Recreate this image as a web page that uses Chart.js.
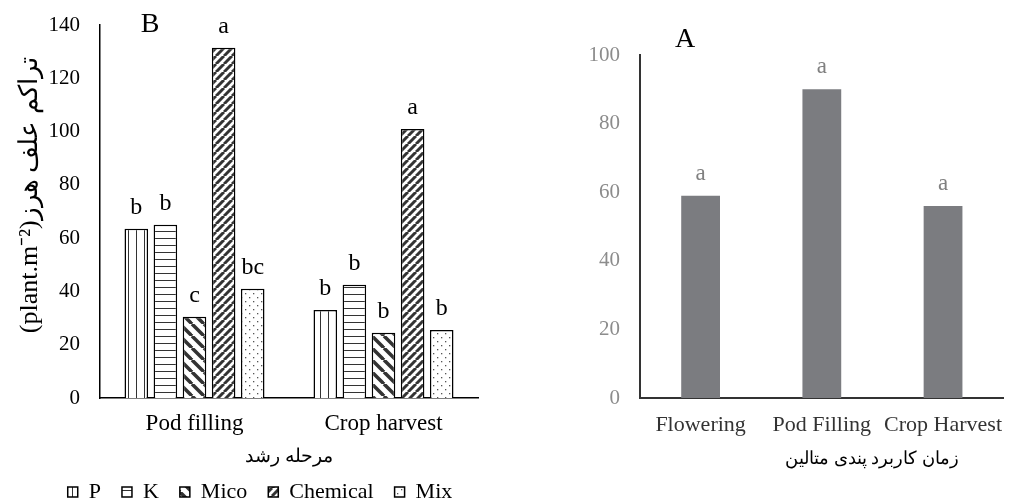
<!DOCTYPE html>
<html>
<head>
<meta charset="utf-8">
<script src="https://cdn.jsdelivr.net/npm/chart.js@4.4.0/dist/chart.umd.min.js"></script>
<style>
  html, body { margin: 0; padding: 0; background: #fff; }
  #wrapB { position: absolute; left: 0; top: 0; width: 545px; height: 500px; }
  #wrapA { position: absolute; left: 545px; top: 0; width: 471px; height: 500px; }
</style>
</head>
<body>
<div id="wrapB"><canvas id="chartB" width="545" height="500"></canvas></div>
<div id="wrapA"><canvas id="chartA" width="471" height="500"></canvas></div>
<script>
// panel B: weed density by growth stage and treatment
var stages = ['Pod filling', 'Crop harvest'];
var treatments = ['P', 'K', 'Mico', 'Chemical', 'Mix'];
var pValues = [63.5, 33];
var kValues = [65, 42.5];
var micoValues = [30.5, 24.5];
var chemicalValues = [131.5, 101];
var mixValues = [41, 25.5];
var pLetters = ['b', 'b'];
var kLetters = ['b', 'b'];
var micoLetters = ['c', 'b'];
var chemicalLetters = ['a', 'a'];
var mixLetters = ['bc', 'b'];
var yTicksB = { min: 0, max: 140, step: 20 };

// panel A: pendimethalin application time
var timings = ['Flowering', 'Pod Filling', 'Crop Harvest'];
var timingValues = [59, 90, 56];
var timingLetters = ['a', 'a', 'a'];
var yTicksA = { min: 0, max: 100, step: 20 };

var serif = 'Liberation Serif';

function makePattern(size, draw) {
    var c = document.createElement('canvas');
    c.width = size; c.height = size;
    var g = c.getContext('2d');
    g.fillStyle = '#fff';
    g.fillRect(0, 0, size, size);
    draw(g, size);
    return g.createPattern(c, 'repeat');
}

var vertLines = makePattern(8, function (g, s) {
    g.fillStyle = '#333';
    g.fillRect(0, 0, 1, s);
});
var horizLines = makePattern(7, function (g, s) {
    g.fillStyle = '#333';
    g.fillRect(0, 0, s, 1);
});
var backDiag = makePattern(12, function (g, s) {
    g.strokeStyle = '#333';
    g.lineWidth = 3.5;
    for (var k = -1; k <= 1; k++) {
        g.beginPath();
        g.moveTo(k * s, 0);
        g.lineTo(k * s + s, s);
        g.stroke();
    }
});
var fwdDiag = makePattern(8, function (g, s) {
    g.strokeStyle = '#333';
    g.lineWidth = 3;
    for (var k = -1; k <= 1; k++) {
        g.beginPath();
        g.moveTo(k * s, s);
        g.lineTo(k * s + s, 0);
        g.stroke();
    }
});
var dots = makePattern(8, function (g, s) {
    g.fillStyle = '#555';
    g.fillRect(1, 1, 1.3, 1.3);
    g.fillRect(5, 5, 1.3, 1.3);
});

function barSet(label, values, letters, fill) {
    return {
        label: label,
        data: values,
        letters: letters,
        backgroundColor: fill,
        borderColor: '#000',
        borderWidth: 1.5,
        categoryPercentage: 0.77,
        barPercentage: 0.81
    };
}

// writes the significance letters above each bar
var letterPlugin = {
    id: 'letters',
    afterDatasetsDraw: function (chart, args, opts) {
        var ctx = chart.ctx;
        ctx.save();
        ctx.font = opts.size + 'px "' + serif + '"';
        ctx.fillStyle = opts.color;
        ctx.textAlign = 'center';
        ctx.textBaseline = 'alphabetic';
        chart.data.datasets.forEach(function (ds, i) {
            chart.getDatasetMeta(i).data.forEach(function (bar, j) {
                ctx.fillText(ds.letters[j], bar.x, bar.y - opts.gap);
            });
        });
        ctx.restore();
    }
};

// panel letters and extra captions
var captionPlugin = {
    id: 'captions',
    afterDraw: function (chart, args, opts) {
        var ctx = chart.ctx;
        ctx.save();
        opts.items.forEach(function (t) {
            ctx.font = t.size + 'px "' + serif + '"';
            ctx.fillStyle = t.color;
            ctx.textAlign = 'center';
            ctx.textBaseline = 'middle';
            ctx.fillText(t.text, t.x, t.y);
        });
        ctx.restore();
    }
};

new Chart(document.getElementById('chartB'), {
    type: 'bar',
    data: {
        labels: stages,
        datasets: [
            barSet(treatments[0], pValues, pLetters, vertLines),
            barSet(treatments[1], kValues, kLetters, horizLines),
            barSet(treatments[2], micoValues, micoLetters, backDiag),
            barSet(treatments[3], chemicalValues, chemicalLetters, fwdDiag),
            barSet(treatments[4], mixValues, mixLetters, dots)
        ]
    },
    options: {
        responsive: false,
        animation: false,
        layout: { padding: { left: 42, right: 67, top: 25, bottom: 0 } },
        scales: {
            x: {
                grid: { display: false, drawTicks: false },
                border: { display: true, color: '#000', width: 1.5 },
                ticks: { color: '#000', padding: 12, font: { family: serif, size: 23 } },
                title: {
                    display: true, text: 'مرحله رشد', color: '#000',
                    font: { family: serif, size: 19 }, padding: { top: 0, bottom: -8 }
                },
                afterFit: function (s) { s.height = 62; }
            },
            y: {
                min: yTicksB.min, max: yTicksB.max,
                grid: { display: false, drawTicks: true, tickLength: 16 },
                border: { display: true, color: '#000', width: 1.5 },
                ticks: { stepSize: yTicksB.step, color: '#000', padding: 4, font: { family: serif, size: 21 } },
                title: {
                    display: true, text: '\u00A0\u00A0\u00A0\u00A0\u00A0(plant.m⁻²)تراکم علف هرز', color: '#000',
                    font: { family: serif, size: 26 }, padding: { top: -27, bottom: 0 }
                },
                afterFit: function (s) { s.width = 58; }
            }
        },
        plugins: {
            legend: {
                position: 'bottom',
                maxHeight: 40,
                labels: {
                    boxWidth: 10, boxHeight: 10, padding: 21, color: '#000',
                    font: { family: serif, size: 22 }
                }
            },
            tooltip: { enabled: false },
            letters: { size: 24, color: '#000', gap: 15 },
            captions: { items: [{ text: 'B', x: 150, y: 25, size: 28, color: '#000' }] }
        }
    },
    plugins: [letterPlugin, captionPlugin]
});

new Chart(document.getElementById('chartA'), {
    type: 'bar',
    data: {
        labels: timings,
        datasets: [{
            label: 'A',
            data: timingValues,
            letters: timingLetters,
            backgroundColor: '#7b7c80',
            borderWidth: 0,
            categoryPercentage: 0.4,
            barPercentage: 0.8
        }]
    },
    options: {
        responsive: false,
        animation: false,
        layout: { padding: { left: 0, right: 0, top: 55, bottom: 0 } },
        scales: {
            x: {
                grid: { display: false, drawTicks: false },
                border: { display: true, color: '#333', width: 2 },
                ticks: { color: '#333', padding: 14, maxRotation: 0, autoSkip: false, font: { family: serif, size: 22 } },
                afterFit: function (s) { s.height = 102; }
            },
            y: {
                min: yTicksA.min, max: yTicksA.max,
                grid: { display: false, drawTicks: false },
                border: { display: true, color: '#333', width: 2 },
                ticks: { stepSize: yTicksA.step, color: '#8c8c8c', padding: 20, font: { family: serif, size: 21 } },
                afterFit: function (s) { s.width = 95; }
            }
        },
        plugins: {
            legend: { display: false },
            tooltip: { enabled: false },
            letters: { size: 23, color: '#808080', gap: 16 },
            captions: {
                items: [
                    { text: 'A', x: 140, y: 40, size: 28, color: '#000' },
                    { text: 'زمان کاربرد پندی متالین', x: 327, y: 459, size: 18, color: '#000' }
                ]
            }
        }
    },
    plugins: [letterPlugin, captionPlugin]
});
</script>
</body>
</html>
